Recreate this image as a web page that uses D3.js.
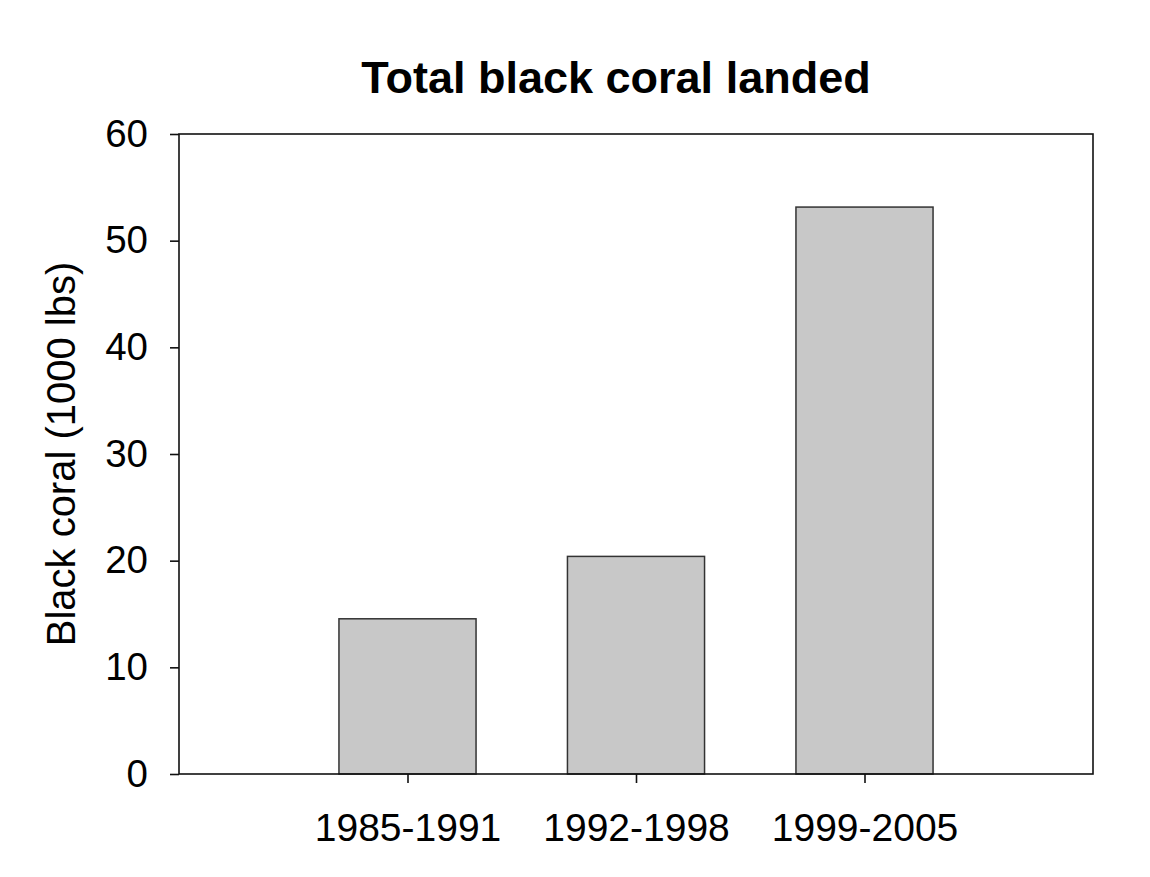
<!DOCTYPE html>
<html>
<head>
<meta charset="utf-8">
<script src="https://cdn.jsdelivr.net/npm/d3@7"></script>
<style>
  html, body { margin: 0; padding: 0; background: #fff; }
  svg { display: block; font-family: "Liberation Sans", Arial, sans-serif; }
</style>
</head>
<body>
<svg id="chart" width="1150" height="877"></svg>
<script>
const categories = ["1985-1991", "1992-1998", "1999-2005"];
const values = [14.55, 20.4, 53.15];
const yTicks = [0, 10, 20, 30, 40, 50, 60];
const title = "Total black coral landed";
const yLabel = "Black coral (1000 lbs)";

const svg = d3.select("#chart");
const m = { left: 179, right: 1093, top: 134, bottom: 774 };

const x = d3.scalePoint().domain(categories).range([m.left, m.right]).padding(1);
const y = d3.scaleLinear().domain([0, 60]).range([m.bottom, m.top]);
const barW = x.step() * 0.6;

// bars
svg.append("g").selectAll("rect").data(values).join("rect")
  .attr("x", (d, i) => x(categories[i]) - barW / 2)
  .attr("y", d => y(d))
  .attr("width", barW)
  .attr("height", d => y(0) - y(d))
  .attr("fill", "#c8c8c8")
  .attr("stroke", "#333")
  .attr("stroke-width", 1.5);

// frame
svg.append("rect")
  .attr("x", m.left).attr("y", m.top)
  .attr("width", m.right - m.left).attr("height", m.bottom - m.top)
  .attr("fill", "none").attr("stroke", "#111").attr("stroke-width", 1.6);

// y axis
const yAxis = svg.append("g").attr("transform", `translate(${m.left},0)`)
  .call(d3.axisLeft(y).tickValues(yTicks).tickSize(9).tickPadding(22).tickFormat(d3.format("d")));
yAxis.select(".domain").remove();
yAxis.selectAll("line").attr("stroke", "#111").attr("stroke-width", 1.6);
yAxis.selectAll("text").attr("font-size", 38.5).attr("fill", "#000")
  .attr("font-family", "Liberation Sans, Arial, sans-serif");

// x axis
const xAxis = svg.append("g").attr("transform", `translate(0,${m.bottom})`)
  .call(d3.axisBottom(x).tickSize(9).tickPadding(30));
xAxis.select(".domain").remove();
xAxis.selectAll("line").attr("stroke", "#111").attr("stroke-width", 1.6);
xAxis.selectAll("text").attr("font-size", 39).attr("fill", "#000")
  .attr("font-family", "Liberation Sans, Arial, sans-serif");

// title
svg.append("text")
  .attr("x", 616).attr("y", 93)
  .attr("text-anchor", "middle")
  .attr("font-size", 45).attr("font-weight", "bold")
  .text(title);

// y label
svg.append("text")
  .attr("transform", `translate(75,${(m.top + m.bottom) / 2}) rotate(-90)`)
  .attr("text-anchor", "middle")
  .attr("font-size", 40)
  .text(yLabel);
</script>
</body>
</html>
